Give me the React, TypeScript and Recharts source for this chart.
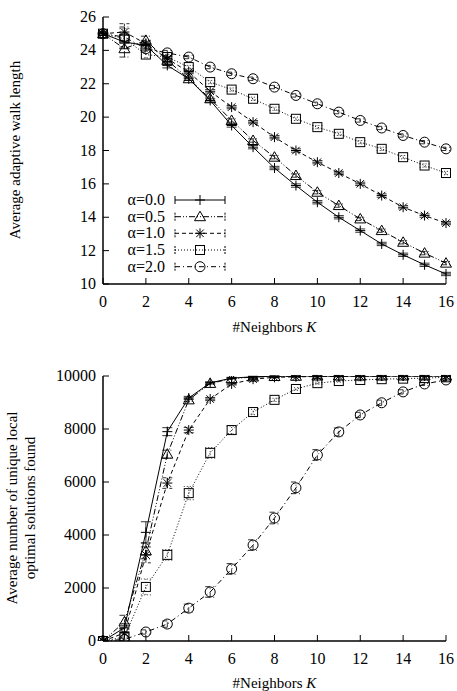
import React from 'react';
import { LineChart, Line, XAxis, YAxis, ErrorBar } from 'recharts';

// neighbors K
const kValues = [0, 1, 2, 3, 4, 5, 6, 7, 8, 9, 10, 11, 12, 13, 14, 15, 16];
const kTicks = [0, 2, 4, 6, 8, 10, 12, 14, 16];
const alphaLabels = ['α=0.0', 'α=0.5', 'α=1.0', 'α=1.5', 'α=2.0'];

// top panel: average adaptive walk length
const walkTicks = [10, 12, 14, 16, 18, 20, 22, 24, 26];
const walk00 = [25, 24.5, 24.3, 23.1, 22.3, 21.0, 19.5, 18.2, 16.95, 15.9, 14.9, 14.0, 13.2, 12.4, 11.75, 11.15, 10.6];
const walk05 = [25, 24.1, 24.6, 23.4, 22.3, 21.1, 19.8, 18.6, 17.6, 16.5, 15.5, 14.7, 13.9, 13.2, 12.5, 11.85, 11.25];
const walk10 = [25, 25.1, 24.4, 23.5, 22.7, 21.55, 20.6, 19.7, 18.8, 18.0, 17.3, 16.65, 16.0, 15.3, 14.6, 14.1, 13.65];
const walk15 = [25, 24.7, 23.75, 23.6, 23.0, 22.1, 21.65, 21.1, 20.5, 19.9, 19.4, 19.0, 18.5, 18.1, 17.6, 17.1, 16.65];
const walk20 = [25, 24.8, 24.1, 23.85, 23.6, 23.0, 22.6, 22.3, 21.8, 21.3, 20.8, 20.3, 19.8, 19.35, 18.9, 18.5, 18.1];
const walkErr00 = [0.1, 0.4, 0.2, 0.15, 0.1, 0.1, 0.1, 0.1, 0.1, 0.1, 0.1, 0.1, 0.1, 0.1, 0.1, 0.1, 0.1];
const walkErr05 = [0.1, 0.5, 0.25, 0.15, 0.1, 0.1, 0.1, 0.1, 0.1, 0.1, 0.1, 0.1, 0.1, 0.1, 0.1, 0.1, 0.1];
const walkErr10 = [0.1, 0.5, 0.2, 0.15, 0.1, 0.1, 0.1, 0.1, 0.1, 0.1, 0.1, 0.1, 0.1, 0.1, 0.1, 0.1, 0.1];
const walkErr15 = [0.1, 0.6, 0.2, 0.15, 0.1, 0.1, 0.1, 0.1, 0.1, 0.1, 0.1, 0.1, 0.1, 0.1, 0.1, 0.1, 0.1];
const walkErr20 = [0.1, 0.6, 0.2, 0.15, 0.1, 0.1, 0.1, 0.1, 0.1, 0.1, 0.1, 0.1, 0.1, 0.1, 0.1, 0.1, 0.1];

// bottom panel: unique local optima found
const optTicks = [0, 2000, 4000, 6000, 8000, 10000];
const opt00 = [0, 500, 4100, 7900, 9170, 9740, 9920, 9970, 9990, 10000, 10000, 10000, 10000, 10000, 10000, 10000, 10000];
const opt05 = [0, 720, 3400, 7050, 9100, 9720, 9900, 9960, 9980, 9990, 10000, 10000, 10000, 10000, 10000, 10000, 10000];
const opt10 = [0, 300, 3250, 5960, 7960, 9130, 9700, 9880, 9950, 9970, 9980, 9990, 9990, 10000, 10000, 10000, 10000];
const opt15 = [0, 150, 2040, 3250, 5580, 7100, 7960, 8640, 9100, 9510, 9730, 9810, 9850, 9880, 9900, 9920, 9950];
const opt20 = [0, 60, 340, 640, 1240, 1850, 2720, 3620, 4640, 5780, 7020, 7890, 8530, 8990, 9400, 9700, 9850];
const optErr00 = [0, 150, 400, 150, 60, 40, 30, 20, 20, 20, 20, 20, 20, 20, 20, 20, 20];
const optErr05 = [0, 250, 300, 150, 60, 40, 30, 20, 20, 20, 20, 20, 20, 20, 20, 20, 20];
const optErr10 = [0, 150, 300, 200, 100, 60, 40, 30, 20, 20, 20, 20, 20, 20, 20, 20, 20];
const optErr15 = [0, 80, 300, 200, 250, 200, 150, 100, 60, 50, 40, 40, 30, 30, 30, 30, 30];
const optErr20 = [0, 40, 80, 120, 150, 200, 200, 200, 220, 220, 200, 150, 100, 100, 80, 60, 50];

const walkData = kValues.map((k, i) => ({
  k,
  s0: walk00[i], s1: walk05[i], s2: walk10[i], s3: walk15[i], s4: walk20[i],
  e0: walkErr00[i], e1: walkErr05[i], e2: walkErr10[i], e3: walkErr15[i], e4: walkErr20[i],
}));

const optData = kValues.map((k, i) => ({
  k,
  s0: opt00[i], s1: opt05[i], s2: opt10[i], s3: opt15[i], s4: opt20[i],
  e0: optErr00[i], e1: optErr05[i], e2: optErr10[i], e3: optErr15[i], e4: optErr20[i],
}));

const FONT = '"Liberation Serif", "DejaVu Serif", serif';
const dashes = [undefined, '6 2 1 2 1 2', '4 3', '1 2', '5 3 1 3'];
const shapes = ['plus', 'triangle', 'star', 'square', 'circle'];

function Marker({ shape, cx, cy }: { shape: string; cx: number; cy: number }) {
  const s = 5;
  const p = { stroke: '#000', strokeWidth: 1, fill: 'none' };
  if (shape === 'plus') {
    return (
      <g {...p}>
        <line x1={cx - s} y1={cy} x2={cx + s} y2={cy} />
        <line x1={cx} y1={cy - s} x2={cx} y2={cy + s} />
      </g>
    );
  }
  if (shape === 'star') {
    const d = s * 0.75;
    return (
      <g {...p}>
        <line x1={cx - s} y1={cy} x2={cx + s} y2={cy} />
        <line x1={cx} y1={cy - s} x2={cx} y2={cy + s} />
        <line x1={cx - d} y1={cy - d} x2={cx + d} y2={cy + d} />
        <line x1={cx - d} y1={cy + d} x2={cx + d} y2={cy - d} />
      </g>
    );
  }
  if (shape === 'triangle') {
    return <polygon {...p} points={`${cx},${cy - 5.5} ${cx - 5.5},${cy + 4} ${cx + 5.5},${cy + 4}`} />;
  }
  if (shape === 'square') {
    return <rect {...p} x={cx - 4.5} y={cy - 4.5} width={9} height={9} />;
  }
  return <circle {...p} cx={cx} cy={cy} r={5} />;
}

const dotFor = (shape: string) => (props: any) => (
  <Marker key={props.index} shape={shape} cx={props.cx} cy={props.cy} />
);

const BottomTick = ({ x, y, payload }: any) => (
  <g>
    <line x1={x} y1={y} x2={x} y2={y - 6} stroke="#000" strokeWidth={1} />
    <text x={x} y={y + 23} textAnchor="middle" fontSize={16} fontFamily={FONT} fill="#000">
      {payload.value}
    </text>
  </g>
);
const TopTick = ({ x, y }: any) => <line x1={x} y1={y} x2={x} y2={y + 6} stroke="#000" strokeWidth={1} />;
const LeftTick = ({ x, y, payload }: any) => (
  <g>
    <line x1={x} y1={y} x2={x + 6} y2={y} stroke="#000" strokeWidth={1} />
    <text x={x - 7} y={y + 5} textAnchor="end" fontSize={16} fontFamily={FONT} fill="#000">
      {payload.value}
    </text>
  </g>
);
const RightTick = ({ x, y }: any) => <line x1={x} y1={y} x2={x - 6} y2={y} stroke="#000" strokeWidth={1} />;

function Panel({ data, domain, ticks, height, top, bottom }: any) {
  return (
    <LineChart
      width={457}
      height={height}
      data={data}
      margin={{ top, right: 11, left: 0, bottom: 0 }}
      style={{ overflow: 'visible' }}
    >
      <XAxis
        dataKey="k"
        type="number"
        domain={[0, 16]}
        ticks={kTicks}
        height={bottom}
        tickSize={0}
        tickMargin={0}
        tickLine={false}
        tick={<BottomTick />}
        axisLine={{ stroke: '#000', strokeWidth: 1.5 }}
        interval={0}
      />
      <XAxis
        xAxisId="mirror"
        dataKey="k"
        type="number"
        orientation="top"
        domain={[0, 16]}
        ticks={kTicks}
        height={0}
        tickSize={0}
        tickMargin={0}
        tickLine={false}
        tick={<TopTick />}
        axisLine={{ stroke: '#000', strokeWidth: 1.5 }}
        interval={0}
      />
      <YAxis
        type="number"
        domain={domain}
        ticks={ticks}
        width={103}
        tickSize={0}
        tickMargin={0}
        tickLine={false}
        tick={<LeftTick />}
        axisLine={{ stroke: '#000', strokeWidth: 1.5 }}
        interval={0}
        allowDataOverflow
      />
      <YAxis
        yAxisId="mirror"
        type="number"
        orientation="right"
        domain={domain}
        ticks={ticks}
        width={0}
        tickSize={0}
        tickMargin={0}
        tickLine={false}
        tick={<RightTick />}
        axisLine={{ stroke: '#000', strokeWidth: 1.5 }}
        interval={0}
      />
      {shapes.map((shape, i) => (
        <Line
          key={shape}
          dataKey={`s${i}`}
          type="linear"
          stroke="#000"
          strokeWidth={1}
          strokeDasharray={dashes[i]}
          dot={dotFor(shape)}
          activeDot={false}
          isAnimationActive={false}
        >
          <ErrorBar dataKey={`e${i}`} width={5} stroke="#000" strokeWidth={0.8} strokeDasharray={dashes[i]} direction="y" />
        </Line>
      ))}
    </LineChart>
  );
}

function LegendBox() {
  const rows = [200, 216.7, 233.3, 250, 266.7];
  return (
    <svg width={457} height={691} style={{ position: 'absolute', left: 0, top: 0, pointerEvents: 'none' }}>
      {alphaLabels.map((label, i) => {
        const y = rows[i];
        return (
          <g key={label}>
            <text x={165} y={y + 5} textAnchor="end" fontSize={16} fontFamily={FONT} fill="#000">
              {label}
            </text>
            <line x1={175} y1={y} x2={225} y2={y} stroke="#000" strokeWidth={1} strokeDasharray={dashes[i]} />
            <line x1={175} y1={y - 4} x2={175} y2={y + 4} stroke="#000" strokeWidth={1} strokeDasharray={i ? '2 1' : undefined} />
            <line x1={225} y1={y - 4} x2={225} y2={y + 4} stroke="#000" strokeWidth={1} strokeDasharray={i ? '2 1' : undefined} />
            <Marker shape={shapes[i]} cx={200} cy={y} />
          </g>
        );
      })}
    </svg>
  );
}

const titleStyle: React.CSSProperties = {
  position: 'absolute',
  fontSize: 15,
  lineHeight: '18px',
  textAlign: 'center',
  color: '#000',
  fontFamily: FONT,
  whiteSpace: 'nowrap',
};

export default function App() {
  return (
    <div style={{ position: 'absolute', left: 0, top: 0, width: 457, height: 691, background: '#fff', fontFamily: FONT }}>
      <div style={{ position: 'absolute', left: 0, top: 0 }}>
        <Panel data={walkData} domain={[10, 26]} ticks={walkTicks} height={345} top={17} bottom={61} />
      </div>
      <div style={{ position: 'absolute', left: 0, top: 345 }}>
        <Panel data={optData} domain={[0, 10000]} ticks={optTicks} height={346} top={31} bottom={50} />
      </div>
      <LegendBox />
      <div style={{ ...titleStyle, left: 103, top: 318, width: 343 }}>
        #Neighbors <i>K</i>
      </div>
      <div style={{ ...titleStyle, left: 103, top: 674, width: 343 }}>
        #Neighbors <i>K</i>
      </div>
      <div style={{ ...titleStyle, left: 15 - 150, top: 150 - 9, width: 300, height: 18, transform: 'rotate(-90deg)' }}>
        Average adaptive walk length
      </div>
      <div style={{ ...titleStyle, left: 21 - 150, top: 508 - 18, width: 300, height: 36, transform: 'rotate(-90deg)' }}>
        Average number of unique local
        <br />
        optimal solutions found
      </div>
    </div>
  );
}
